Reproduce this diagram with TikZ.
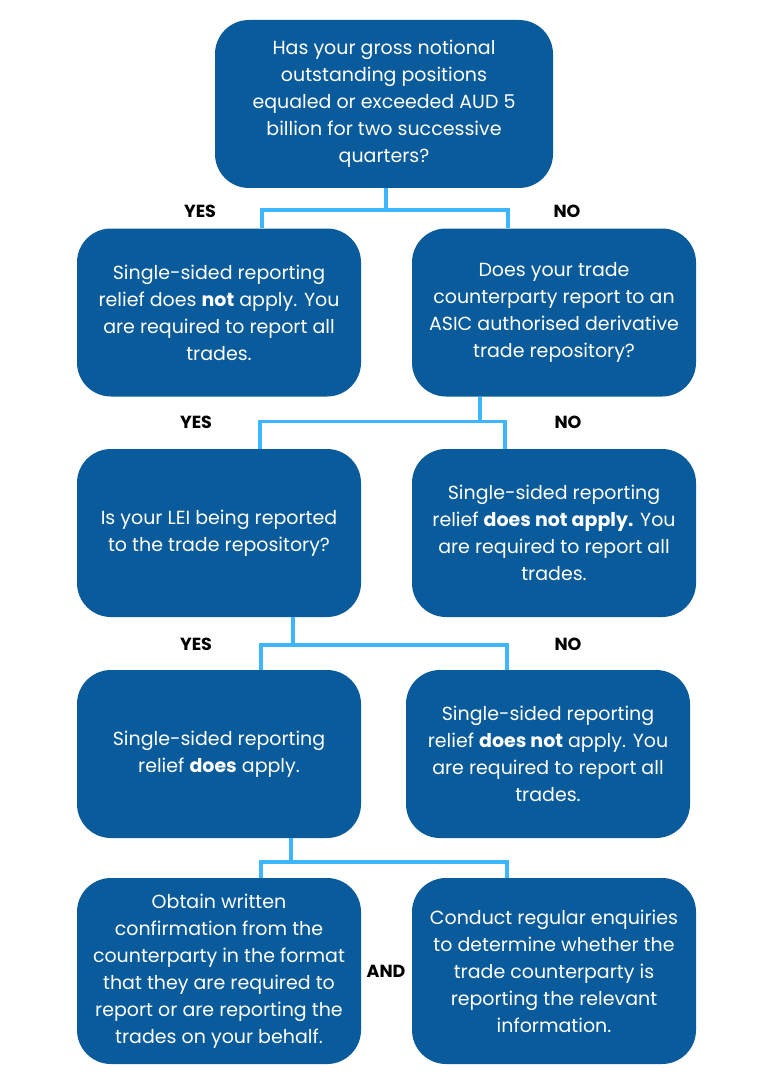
\documentclass[tikz,border=0pt]{standalone}
\usepackage{fontspec}
\setmainfont{Poppins}
\definecolor{boxblue}{HTML}{0A5B9B}
\definecolor{linkblue}{HTML}{3DB5FF}
\begin{document}
\begin{tikzpicture}[x=1pt,y=-1pt,
  box/.style={fill=boxblue, rounded corners=34pt, text=white, align=center,
    inner sep=0pt, minimum width=284pt, minimum height=168pt,
    font=\fontsize{19}{27}\selectfont},
  link/.style={draw=linkblue, line width=3.5pt},
  lbl/.style={font=\fontsize{17.5}{18}\selectfont\bfseries, text=black}]
\useasboundingbox[fill=white] (0,0) rectangle (768,1086);

\node[box, minimum width=338pt] (top) at (384,104)
  {Has your gross notional\\ outstanding positions\\ equaled or exceeded AUD 5\\ billion for two successive\\ quarters?};
\node[box] (r1l) at (219,312.5)
  {Single-sided reporting\\ relief does \textbf{not} apply. You\\ are required to report all\\ trades.};
\node[box] (r1r) at (554,312.5)
  {Does your trade\\ counterparty report to an\\ ASIC authorised derivative\\ trade repository?};
\node[box] (r2l) at (219,533)
  {Is your LEI being reported\\ to the trade repository?};
\node[box] (r2r) at (554,533)
  {Single-sided reporting\\ relief \textbf{does not apply.} You\\ are required to report all\\ trades.};
\node[box] (r3l) at (219,754)
  {Single-sided reporting\\ relief \textbf{does} apply.};
\node[box] (r3r) at (548,754)
  {Single-sided reporting\\ relief \textbf{does not} apply. You\\ are required to report all\\ trades.};
\node[box, minimum height=186pt] (r4l) at (219,971)
  {Obtain written\\ confirmation from the\\ counterparty in the format\\ that they are required to\\ report or are reporting the\\ trades on your behalf.};
\node[box, minimum height=186pt] (r4r) at (554,971)
  {Conduct regular enquiries\\ to determine whether the\\ trade counterparty is\\ reporting the relevant\\ information.};

% connectors
\draw[link] ([xshift=2pt]top.south) -- ++(0,22) coordinate (j1);
\draw[link] ([xshift=43pt]r1l.north) |- (j1) -| ([xshift=-46pt]r1r.north);

\draw[link] ([xshift=-74pt]r1r.south) -- ++(0,25) coordinate (j2);
\draw[link] ([xshift=41pt]r2l.north) |- (j2) -| ([xshift=-49pt]r2r.north);

\draw[link] ([xshift=74pt]r2l.south) -- ++(0,28) coordinate (j3);
\draw[link] ([xshift=42pt]r3l.north) |- (j3) -| ([xshift=-41pt]r3r.north);

\draw[link] ([xshift=72pt]r3l.south) -- ++(0,24) coordinate (j4);
\draw[link] ([xshift=42pt]r4l.north) |- (j4) -| ([xshift=-47pt]r4r.north);

% labels
\node[lbl] (y1) at (200,211) {YES};
\node[lbl] (n1) at (567,211) {NO};
\node[lbl] (y2) at (196,422) {YES};
\node[lbl] (n2) at (568,422) {NO};
\node[lbl] (y3) at (196,644) {YES};
\node[lbl] (n3) at (568,644) {NO};
\node[lbl] (and) at (386,971) {AND};
\end{tikzpicture}
\end{document}
